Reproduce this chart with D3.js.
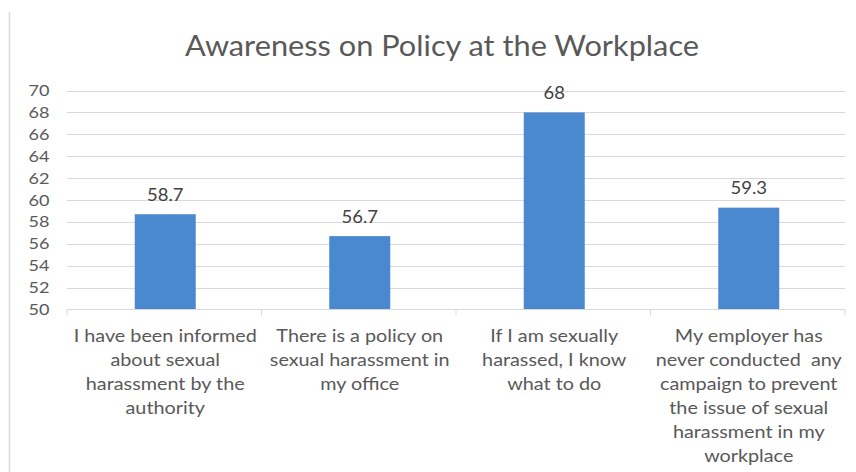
<!DOCTYPE html>
<html><head><meta charset="utf-8">
<script src="https://cdn.jsdelivr.net/npm/d3@7"></script>
<style>body{margin:0;background:#fff}svg text{font-family:Lato,"Open Sans",sans-serif}</style>
</head><body>
<svg id="c" width="856" height="472"></svg>
<script>
const title = "Awareness on Policy at the Workplace";
const categories = [
  ["I have been informed","about sexual","harassment by the","authority"],
  ["There is a policy on","sexual harassment in","my office"],
  ["If I am sexually","harassed, I know","what to do"],
  ["My employer has","never conducted  any","campaign to prevent","the issue of sexual","harassment in my","workplace"]
];
const values = [58.7, 56.7, 68, 59.3];
const valueLabels = ["58.7","56.7","68","59.3"];
const yTicks = [50,52,54,56,58,60,62,64,66,68,70];

const svg = d3.select("#c");
const L = 67, R = 845, T = 90.5, B = 309.5;
const x = d3.scaleBand().domain(d3.range(values.length)).range([L, R]).paddingInner(0).paddingOuter(0);
const y = d3.scaleLinear().domain([50,70]).range([B, T]);
const grey = "#595959";

// left border
svg.append("line").attr("x1",9.5).attr("x2",9.5).attr("y1",12).attr("y2",472).attr("stroke","#d9d9d9").attr("stroke-width",1.5);

svg.append("text").attr("transform","translate(442,56) scale(1.06,1)").attr("text-anchor","middle")
  .attr("font-size",29).attr("fill",grey).text(title);

// gridlines
svg.append("g").selectAll("line").data(yTicks.filter(d=>d>50)).join("line")
  .attr("x1",L).attr("x2",R).attr("y1",d=>Math.round(y(d))+0.5).attr("y2",d=>Math.round(y(d))+0.5)
  .attr("stroke","#d9d9d9").attr("stroke-width",1);

// y labels
svg.append("g").selectAll("text").data(yTicks).join("text")
  .attr("transform",d=>`translate(49.5,${y(d)+5.5}) scale(1.18,1)`).attr("text-anchor","end")
  .attr("font-size",15.3).attr("fill",grey).text(d=>d);

// bars
const bw = 61;
svg.append("g").selectAll("rect").data(values).join("rect")
  .attr("x",(d,i)=>x(i)+x.bandwidth()/2-bw/2+1).attr("width",bw)
  .attr("y",d=>y(d)).attr("height",d=>B-y(d)).attr("fill","#4A89D0");

// value labels
svg.append("g").selectAll("text").data(values).join("text")
  .attr("transform",(d,i)=>`translate(${x(i)+x.bandwidth()/2+1},${y(d)-13.5}) scale(1.12,1)`)
  .attr("text-anchor","middle").attr("font-size",16.5).attr("fill","#404040").text((d,i)=>valueLabels[i]);

// x axis
svg.append("line").attr("x1",L).attr("x2",R).attr("y1",B).attr("y2",B).attr("stroke","#d9d9d9");
const bounds = d3.range(values.length+1).map(i=> i<values.length ? x(i) : R);
svg.append("g").selectAll("line").data(bounds).join("line")
  .attr("x1",d=>d).attr("x2",d=>d).attr("y1",B).attr("y2",B+6).attr("stroke","#d9d9d9");

// category labels
const cg = svg.append("g").selectAll("text").data(categories).join("text")
  .attr("transform",(d,i)=>`translate(${x(i)+x.bandwidth()/2+1},0) scale(1.1,1)`)
  .attr("text-anchor","middle").attr("font-size",18).attr("fill",grey);
cg.each(function(lines,i){
  const t = d3.select(this);
  lines.forEach((ln,j)=>{
    t.append("tspan").attr("x",0).attr("y",342+j*24.1).attr("xml:space","preserve").text(ln);
  });
});
</script>
</body></html>
